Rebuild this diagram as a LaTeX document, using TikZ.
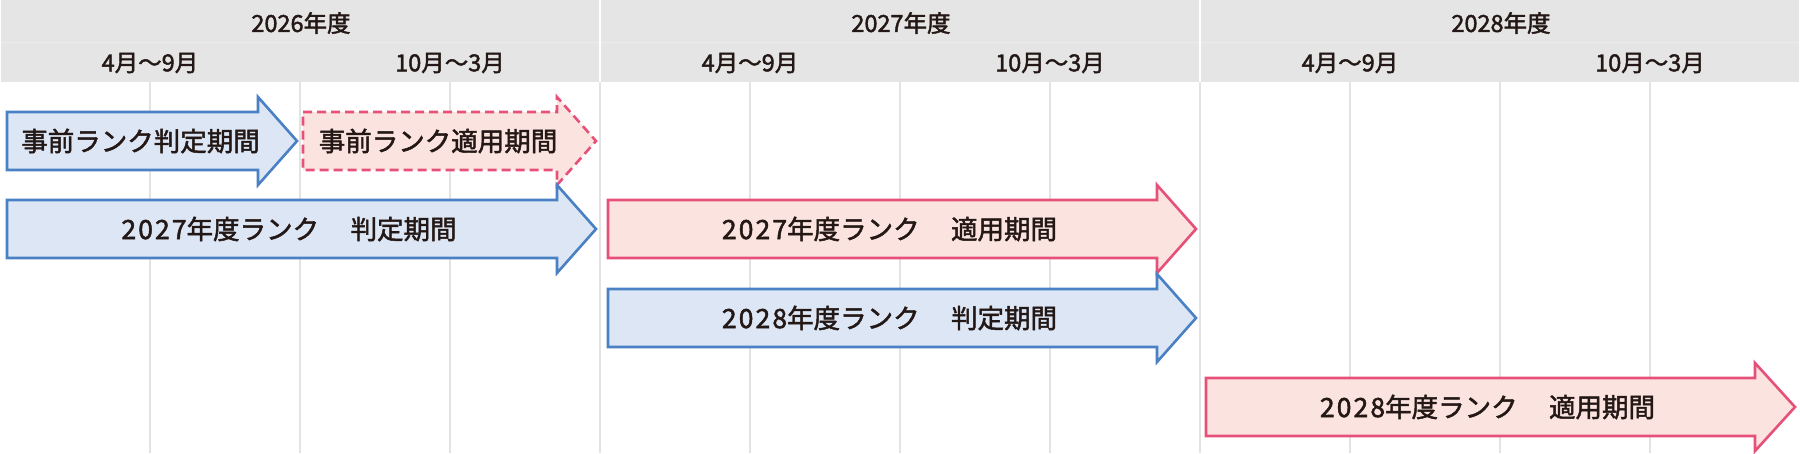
\documentclass[tikz,border=0pt]{standalone}
\usepackage{fontspec}
\setmainfont{Noto Sans CJK JP}[FakeBold=1.8]
\usepackage{tikz}

\definecolor{textdark}{HTML}{231815}
\definecolor{headergray}{HTML}{E5E5E5}
\definecolor{gridgray}{HTML}{E3E3E3}
\definecolor{judgeline}{HTML}{4A80C4}
\definecolor{judgefill}{HTML}{DCE6F5}
\definecolor{applyline}{HTML}{E65079}
\definecolor{applyfill}{HTML}{FBE3DF}

\tikzset{
	judgearrow/.style={draw=judgeline,fill=judgefill,line width=2.6pt,line join=miter},
	applyarrow/.style={draw=applyline,fill=applyfill,line width=2.6pt,line join=miter},
	applydashed/.style={applyarrow,dash pattern=on 9pt off 5pt},
	gridline/.style={draw=gridgray,line width=2pt}
}

\begin{document}
\begin{tikzpicture}[x=1pt,y=-1pt]

\useasboundingbox (0,0) rectangle (1800,453);

%Grid
\begin{scope}[style={gridline}]
	\draw (150,82) -- (150,453);
	\draw (300,82) -- (300,453);
	\draw (450,82) -- (450,453);
	\draw (600,82) -- (600,453);
	\draw (750,82) -- (750,453);
	\draw (900,82) -- (900,453);
	\draw (1050,82) -- (1050,453);
	\draw (1200,82) -- (1200,453);
	\draw (1350,82) -- (1350,453);
	\draw (1500,82) -- (1500,453);
	\draw (1650,82) -- (1650,453);
\end{scope}

%Header
\fill[headergray] (1,0) rectangle (1799,82);
\draw[white,opacity=0.3,line width=1pt] (1,42) -- (1799,42);
\draw[white,line width=2.5pt] (600,0) -- (600,82);
\draw[white,line width=2.5pt] (1200,0) -- (1200,82);

\begin{scope}[every node/.style={text=textdark,inner sep=0pt,font=\fontsize{23.5}{26}\selectfont}]
	%Years
	\node (y2026) at (301,23) {2026年度};
	\node (y2027) at (901,23) {2027年度};
	\node (y2028) at (1501,23) {2028年度};
	
	%Half years
	\node (h2026a) at (150,63) {4月〜9月};
	\node (h2026b) at (450,63) {10月〜3月};
	\node (h2027a) at (750,63) {4月〜9月};
	\node (h2027b) at (1050,63) {10月〜3月};
	\node (h2028a) at (1350,63) {4月〜9月};
	\node (h2028b) at (1650,63) {10月〜3月};
\end{scope}

%Arrows
\begin{scope}
	%Row 1
	\draw[judgearrow] (7,112) -- (258,112) -- (258,97) -- (297,141) -- (258,185) -- (258,170) -- (7,170) -- cycle;
	\draw[applydashed] (303,112) -- (557,112) -- (557,97) -- (596,141) -- (557,185) -- (557,170) -- (303,170) -- cycle;
	
	%Row 2
	\draw[judgearrow] (7,200) -- (557,200) -- (557,185) -- (596,229) -- (557,273) -- (557,258) -- (7,258) -- cycle;
	\draw[applyarrow] (608,200) -- (1157,200) -- (1157,185) -- (1196,229) -- (1157,273) -- (1157,258) -- (608,258) -- cycle;
	
	%Row 3
	\draw[judgearrow] (608,289) -- (1157,289) -- (1157,274) -- (1196,318) -- (1157,362) -- (1157,347) -- (608,347) -- cycle;
	
	%Row 4
	\draw[applyarrow] (1206,378) -- (1755,378) -- (1755,363) -- (1795,407) -- (1755,451) -- (1755,436) -- (1206,436) -- cycle;
\end{scope}

\begin{scope}[every node/.style={text=textdark,inner sep=0pt,font=\fontsize{26.5}{30}\selectfont}]
	%Row 1
	\node (judge_pre) at (140.5,141) {事前ランク判定期間};
	\node (apply_pre) at (438,141) {事前ランク適用期間};
	
	%Row 2
	\node (judge_2027) at (289,229) {{\addfontfeature{LetterSpace=8}2027}年度ランク　\hspace{5pt}判定期間};
	\node (apply_2027) at (889.5,229) {{\addfontfeature{LetterSpace=8}2027}年度ランク　\hspace{5pt}適用期間};
	
	%Row 3
	\node (judge_2028) at (889.5,318) {{\addfontfeature{LetterSpace=8}2028}年度ランク　\hspace{5pt}判定期間};
	
	%Row 4
	\node (apply_2028) at (1487.5,407) {{\addfontfeature{LetterSpace=8}2028}年度ランク　\hspace{5pt}適用期間};
\end{scope}

\end{tikzpicture}
\end{document}
